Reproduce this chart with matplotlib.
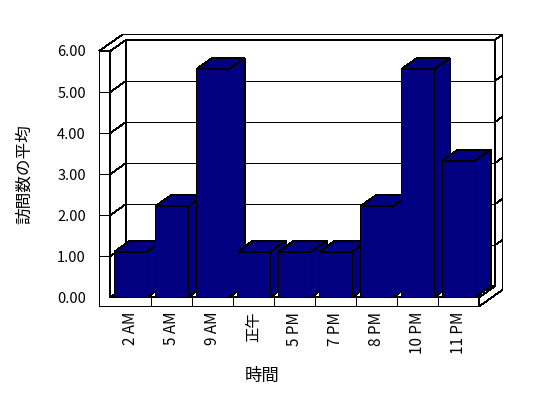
import matplotlib
matplotlib.use("Agg")
import matplotlib.pyplot as plt
from matplotlib.patches import Polygon

plt.rcParams['font.family'] = ['Noto Sans CJK JP', 'DejaVu Sans']
plt.rcParams['lines.antialiased'] = False
plt.rcParams['patch.antialiased'] = False

hours = ['2 AM', '5 AM', '9 AM', '正午', '5 PM', '7 PM', '8 PM', '10 PM', '11 PM']
visits = [1.11, 2.22, 5.56, 1.11, 1.11, 1.11, 2.22, 5.56, 3.33]
yticks = [0, 1, 2, 3, 4, 5, 6]
ytick_labels = ['%.2f' % t for t in yticks]

navy = '#000080'
dx, dy = 0.378, 0.268    # depth of the plot box
wall = 0.27              # left wall thickness
floor = 0.22             # floor thickness
deep = 1.5               # depth incl. back wall thickness
lw = 0.6

fig = plt.figure(figsize=(5.48, 3.98), dpi=100)
ax = fig.add_axes([110.3 / 548, 1 - 297.3 / 398, 369 / 548, 246.3 / 398])
ax.patch.set_visible(False)
for s in ax.spines.values():
    s.set_visible(False)

x0, x1 = -0.5, len(hours) - 0.5
top = yticks[-1]


def face(pts, z, fc='white'):
    ax.add_patch(Polygon(pts, closed=True, fc=fc, ec='black', lw=lw,
                         zorder=z, clip_on=False, joinstyle='miter'))


def line(xs, ys, z=3):
    ax.plot(xs, ys, color='black', lw=lw, zorder=z, clip_on=False,
            solid_capstyle='butt')


# walls and floor
face([(x0 - wall, -floor), (x1, -floor), (x1, 0), (x0, 0), (x0, top),
      (x0 - wall, top)], 2)
face([(x0 - wall, top), (x0, top), (x0 + dx, top + dy), (x1 + dx, top + dy),
      (x1 + deep * dx, top + deep * dy), (x0 - wall + deep * dx, top + deep * dy)], 2)
face([(x0, 0), (x0, top), (x0 + dx, top + dy), (x0 + dx, dy)], 2)
face([(x0 + dx, dy), (x1 + dx, dy), (x1 + dx, top + dy), (x0 + dx, top + dy)], 2)
face([(x0, 0), (x1, 0), (x1 + dx, dy), (x0 + dx, dy)], 2)
face([(x1 + dx, top + dy), (x1 + deep * dx, top + deep * dy),
      (x1 + deep * dx, -floor + deep * dy), (x1, -floor), (x1, 0),
      (x1 + dx, dy)], 2)

# gridlines
for v in yticks[1:-1]:
    line([x0 - wall, x0], [v, v])
    line([x0, x0 + dx], [v, v + dy])
    line([x0 + dx, x1 + dx], [v + dy, v + dy])
    line([x1 + dx, x1 + deep * dx], [v + dy, v + deep * dy])

# category ticks on floor front
for k in range(1, len(hours)):
    line([x0 + k, x0 + k], [-floor, 0])

# bars
bars = ax.bar(range(len(hours)), visits, width=0.8, color=navy,
              edgecolor='black', lw=lw)
for i, (b, v) in enumerate(zip(bars, visits)):
    b.set_zorder(11 + 2 * i)
    b.set_clip_on(False)
    l, r = i - 0.4, i + 0.4
    face([(l, v), (r, v), (r + dx, v + dy), (l + dx, v + dy)], 10 + 2 * i, navy)
    face([(r, 0), (r, v), (r + dx, v + dy), (r + dx, dy)], 10 + 2 * i, navy)

ax.set_xlim(x0, x1)
ax.set_ylim(0, top)
ax.set_yticks(yticks, ytick_labels)
ax.set_xticks(range(len(hours)), hours, rotation=90)
ax.tick_params(axis='y', length=0, pad=17.5, labelsize=10.5)
ax.tick_params(axis='x', length=0, pad=10.5, labelsize=11)

ax.set_xlabel('時間', fontsize=12.5)
ax.xaxis.set_label_coords(0.411, -0.283)
ax.set_ylabel('訪問数の平均', fontsize=12)
ax.yaxis.set_label_coords(-0.2095, 0.5)

fig.savefig('out.png', dpi=100)
